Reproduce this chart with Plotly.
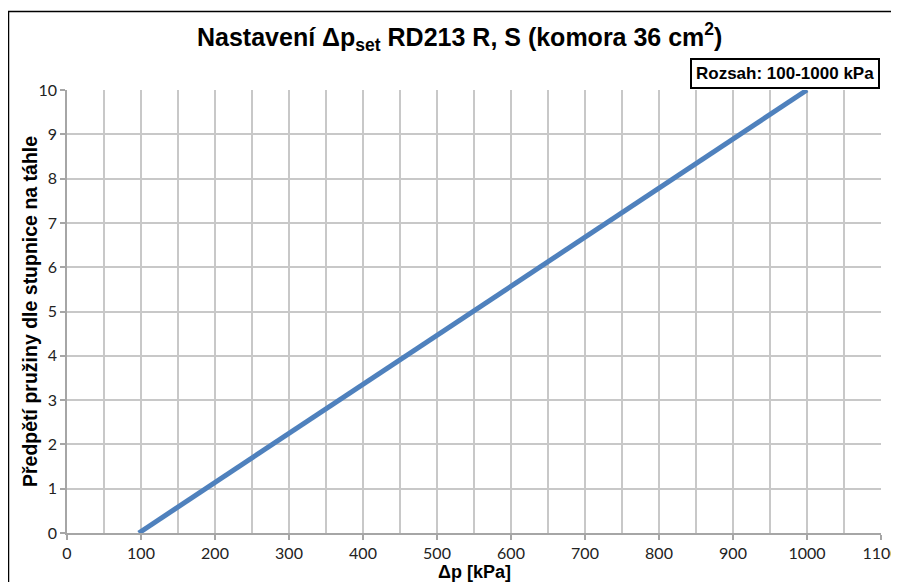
import plotly.graph_objects as go

dp_kpa = [97, 1000]
predpeti = [0, 10]
x_ticks = [0, 100, 200, 300, 400, 500, 600, 700, 800, 900, 1000, 1100]
y_ticks = [0, 1, 2, 3, 4, 5, 6, 7, 8, 9, 10]

fig = go.Figure()
fig.add_trace(go.Scatter(x=dp_kpa, y=predpeti, mode="lines",
                         line=dict(color="#4f81bd", width=5), showlegend=False))

tick_font = dict(family="Lato, Open Sans, sans-serif", size=16, color="#222222")
arial = "Liberation Sans, Arial, sans-serif"

OFF = 8  # page body margin
FW, FH = 899 - OFF, 582 - OFF
L, R, T, B = 67, 881, 90, 533  # plot area in screen pixels
W, H = R - L, B - T

def px(x):
    return (x - L) / W

def py(y):
    return (B - y) / H

fig.update_layout(
    width=FW, height=FH,
    margin=dict(l=L - OFF, r=899 - R, t=T - OFF, b=582 - B),
    paper_bgcolor="white", plot_bgcolor="white",
    xaxis=dict(range=[0, 1100], tickvals=x_ticks, ticktext=[str(v) for v in x_ticks],
               showgrid=True, gridcolor="#c8c8c8", gridwidth=1.5,
               minor=dict(dtick=50, showgrid=True, gridcolor="#c8c8c8", gridwidth=1.5),
               showline=True, linecolor="#a6a6a6", linewidth=1.5,
               ticks="outside", ticklen=5, tickcolor="#a6a6a6", tickwidth=1.5,
               tickfont=tick_font, zeroline=False, automargin=False,
               ticklabeloverflow="allow"),
    yaxis=dict(range=[0, 10], tickvals=y_ticks,
               showgrid=True, gridcolor="#c8c8c8", gridwidth=1.5,
               showline=True, linecolor="#a6a6a6", linewidth=1.5,
               ticks="outside", ticklen=5, tickcolor="#a6a6a6", tickwidth=1.5,
               tickfont=tick_font, zeroline=False, automargin=False),
    annotations=[
        dict(text="<b>Nastavení Δp<sub>set</sub> RD213 R, S (komora 36 cm<sup>2</sup>)</b>",
             xref="paper", yref="paper", x=px(459), y=py(37),
             xanchor="center", yanchor="middle", showarrow=False,
             font=dict(family=arial, size=25, color="black")),
        dict(text="<b>Rozsah: 100-1000 kPa</b>",
             xref="paper", yref="paper", x=px(880), y=py(89), xanchor="right", yanchor="bottom",
             showarrow=False, bordercolor="black", borderwidth=2, borderpad=4,
             bgcolor="white",
             font=dict(family=arial, size=17, color="black")),
        dict(text="<b>Δp [kPa]</b>",
             xref="paper", yref="paper", x=px(474), y=py(572),
             xanchor="center", yanchor="middle", showarrow=False,
             font=dict(family=arial, size=18, color="black")),
        dict(text="<b>Předpětí pružiny dle stupnice na táhle</b>",
             xref="paper", yref="paper", x=px(30), y=py(312),
             xanchor="center", yanchor="middle", showarrow=False, textangle=-90,
             font=dict(family=arial, size=19.5, color="black")),
    ],
    shapes=[
        dict(type="rect", xref="paper", yref="paper",
             x0=px(8.5), x1=1.2, y0=-0.3, y1=py(11.5),
             line=dict(color="black", width=1.5), fillcolor="rgba(0,0,0,0)", layer="above"),
    ],
)

fig.write_html("out.html")
